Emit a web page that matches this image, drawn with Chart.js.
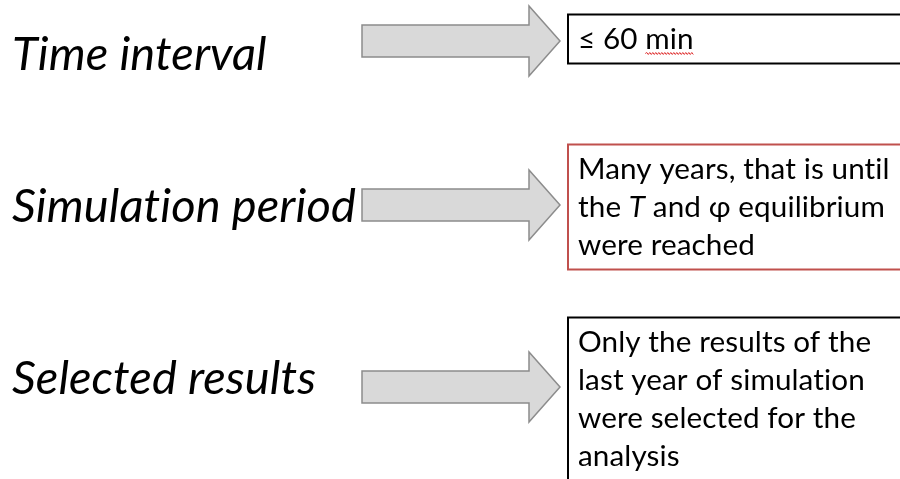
<!DOCTYPE html>
<html lang="en">
<head>
    <meta charset="UTF-8">
    <meta name="viewport" content="width=device-width, initial-scale=1.0">
    <script src="https://cdn.jsdelivr.net/npm/chart.js"></script>
    <title>Simulation settings</title>
    <style>
        html, body { margin: 0; padding: 0; background: #ffffff; }
        #chart-container { width: 900px; height: 479px; }
    </style>
</head>
<body>
    <div id="chart-container">
        <canvas id="diagram"></canvas>
    </div>
    <script>
        // rows of the diagram
        var rowLabels = ['Time interval', 'Simulation period', 'Selected results'];
        // text in the box of each row, one entry per line (_x_ = italic)
        var rowText = [
            ['≤ 60 min'],
            ['Many years, that is until', 'the _T_ and φ equilibrium', 'were reached'],
            ['Only the results of the', 'last year of simulation', 'were selected for the', 'analysis']
        ];
        var boxColors = ['#000000', '#c0504d', '#000000'];
        var misspelled = ['min'];

        // layout (pixels), kept apart from the data
        var LAYOUT = {
            arrowX: [362, 529, 560],
            shaftHalf: 16,
            headHalf: 35,
            boxLeft: 568,
            boxRight: 910,
            textPad: 10,
            firstBaseline: 34,
            lineGap: 38,
            bottomPad: 15,
            rowNudge: [0, -9, 0],
            boxNudge: [-2, 2, 12],
            labelNudge: [29, 17, 7],
            labelX: 12,
            labelWidth: 343,
            bodyWidth: 310
        };
        var FONT = 'Lato, "Open Sans", sans-serif';

        function setFont(ctx, style, size) {
            ctx.font = style + ' ' + size + 'px ' + FONT;
            // a tiny spacing keeps Chrome from building the "ti" ligature
            ctx.letterSpacing = '0.1px';
        }

        function fitSize(ctx, style, text, width) {
            setFont(ctx, style, 100);
            return 100 * width / ctx.measureText(text).width;
        }

        function drawArrow(ctx, x0, x1, x2, yc) {
            ctx.beginPath();
            ctx.moveTo(x0, yc - LAYOUT.shaftHalf);
            ctx.lineTo(x1, yc - LAYOUT.shaftHalf);
            ctx.lineTo(x1, yc - LAYOUT.headHalf);
            ctx.lineTo(x2, yc);
            ctx.lineTo(x1, yc + LAYOUT.headHalf);
            ctx.lineTo(x1, yc + LAYOUT.shaftHalf);
            ctx.lineTo(x0, yc + LAYOUT.shaftHalf);
            ctx.closePath();
            ctx.fillStyle = '#d9d9d9';
            ctx.fill();
            ctx.lineWidth = 1.5;
            ctx.strokeStyle = '#8c8c8c';
            ctx.stroke();
        }

        function drawSquiggle(ctx, x0, x1, y) {
            ctx.beginPath();
            ctx.moveTo(x0, y);
            var up = true;
            for (var x = x0 + 1.5; x <= x1; x += 1.5) {
                ctx.lineTo(x, up ? y - 1 : y + 1);
                up = !up;
            }
            ctx.lineWidth = 1;
            ctx.strokeStyle = '#e03030';
            ctx.stroke();
        }

        function drawLine(ctx, line, x, y, size) {
            var parts = line.split('_');
            parts.forEach(function (part, i) {
                setFont(ctx, i % 2 ? 'italic' : '', size);
                var words = part.split(/(\s+)/);
                words.forEach(function (w) {
                    var wWidth = ctx.measureText(w).width;
                    ctx.fillText(w, x, y);
                    if (misspelled.indexOf(w) >= 0) {
                        drawSquiggle(ctx, x, x + wWidth, y + 5);
                    }
                    x += wWidth;
                });
            });
        }

        var diagramPlugin = {
            id: 'diagram',
            afterDraw: function (chart) {
                var ctx = chart.ctx;
                var xs = chart.scales.x;
                var ys = chart.scales.y;

                ctx.save();
                var labelSize = fitSize(ctx, 'italic', 'Simulation period', LAYOUT.labelWidth);
                var bodySize = fitSize(ctx, '', 'Many years, that is until', LAYOUT.bodyWidth);
                ctx.textBaseline = 'alphabetic';
                ctx.textAlign = 'left';
                rowLabels.forEach(function (label, i) {
                    var yc = ys.getPixelForValue(i) + LAYOUT.rowNudge[i];

                    // row label
                    ctx.fillStyle = '#000000';
                    setFont(ctx, 'italic', labelSize);
                    ctx.fillText(label, xs.getPixelForValue(LAYOUT.labelX), yc + LAYOUT.labelNudge[i]);

                    // arrow
                    drawArrow(ctx,
                        xs.getPixelForValue(LAYOUT.arrowX[0]),
                        xs.getPixelForValue(LAYOUT.arrowX[1]),
                        xs.getPixelForValue(LAYOUT.arrowX[2]), yc);

                    // text box
                    var lines = rowText[i];
                    var h = LAYOUT.firstBaseline + (lines.length - 1) * LAYOUT.lineGap + LAYOUT.bottomPad;
                    var top = yc + LAYOUT.boxNudge[i] - h / 2;
                    var left = xs.getPixelForValue(LAYOUT.boxLeft);
                    ctx.fillStyle = '#ffffff';
                    ctx.fillRect(left, top, LAYOUT.boxRight - left, h);
                    ctx.lineWidth = 2;
                    ctx.strokeStyle = boxColors[i];
                    ctx.strokeRect(left, top, LAYOUT.boxRight - left, h);

                    ctx.fillStyle = '#000000';
                    lines.forEach(function (line, j) {
                        drawLine(ctx, line, left + LAYOUT.textPad,
                            top + LAYOUT.firstBaseline + j * LAYOUT.lineGap, bodySize);
                    });
                });
                ctx.restore();
            }
        };

        var ctx = document.getElementById('diagram').getContext('2d');
        var diagram = new Chart(ctx, {
            type: 'scatter',
            data: { datasets: [] },
            options: {
                responsive: true,
                maintainAspectRatio: false,
                animation: false,
                layout: { padding: { top: 41, bottom: 92, left: 0, right: 0 } },
                plugins: { legend: { display: false }, tooltip: { enabled: false } },
                scales: {
                    x: { type: 'linear', min: 0, max: 900, display: false },
                    y: { type: 'category', labels: rowLabels, display: false }
                }
            },
            plugins: [diagramPlugin]
        });
    </script>
</body>
</html>
